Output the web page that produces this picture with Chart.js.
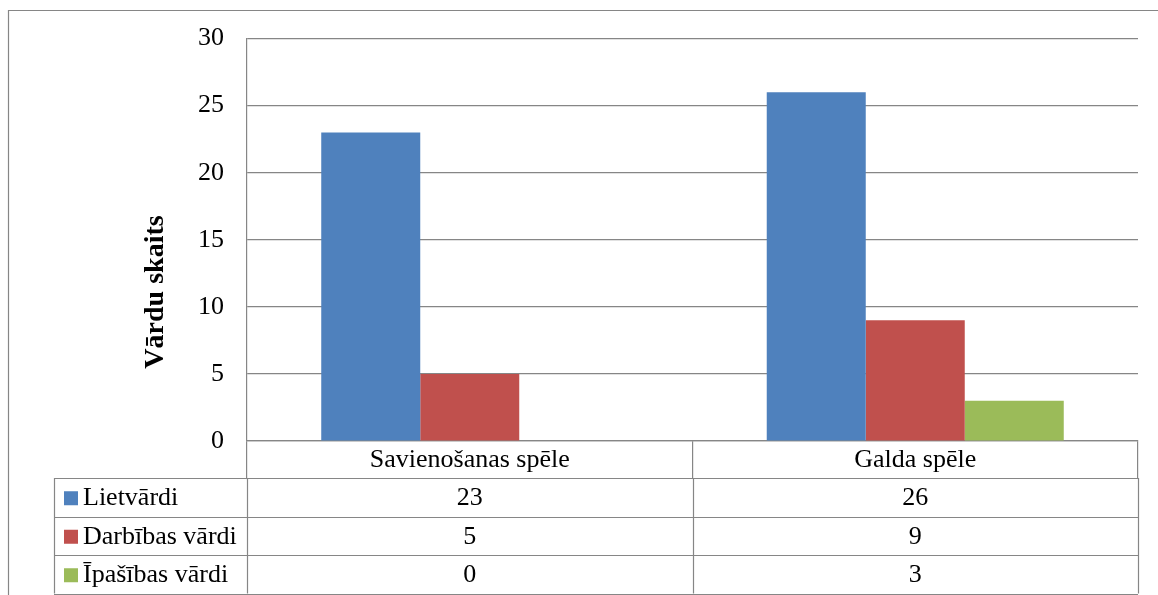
<!DOCTYPE html>
<html>
<head>
<meta charset="utf-8">
<script src="https://cdn.jsdelivr.net/npm/chart.js@4/dist/chart.umd.min.js"></script>
<style>
	html, body { margin: 0; padding: 0; background: #fff; }
	#wrap { width: 1158px; height: 595px; position: relative; }
</style>
</head>
<body>
<div id="wrap"><canvas id="chart"></canvas></div>
<script>
	const CATEGORIES  = ['Savienošanas spēle', 'Galda spēle'];
	const SERIES      = ['Lietvārdi', 'Darbības vārdi', 'Īpašības vārdi'];
	const LIETVARDI   = [23, 26];
	const DARBIBAS    = [5, 9];
	const IPASIBAS    = [0, 3];
	const COLORS      = ['#4F81BD', '#C0504D', '#9BBB59'];
	const Y_TITLE     = 'Vārdu skaits';

	const FONT     = '"Times New Roman", "Liberation Serif", serif';
	const LINE     = '#868686';
	const ROW_H    = 38.5;   // data table row height
	const TABLE_L  = 54;     // left edge of the legend column

	// Excel-like data table under the plot, plus the outer frame and the axis title
	const dataTable = {
		id: 'dataTable',
		afterDraw(chart) {
			const { ctx, chartArea: a, scales: { x } } = chart;
			const rows   = [LIETVARDI, DARBIBAS, IPASIBAS];
			const top    = a.bottom + 37;
			const bottom = top + ROW_H * rows.length;
			const mid    = (a.left + a.right) / 2;

			ctx.save();
			ctx.strokeStyle = LINE;
			ctx.lineWidth   = 1.2;

			// outer chart frame (runs off the right and bottom edge)
			ctx.beginPath();
			ctx.moveTo(8.5, 600);
			ctx.lineTo(8.5, 10.5);
			ctx.lineTo(1160, 10.5);
			ctx.stroke();

			ctx.beginPath();
			for (let i = 0; i <= rows.length; i++) {
				const y = Math.round(top + i * ROW_H) + 0.5;
				ctx.moveTo(TABLE_L, y);
				ctx.lineTo(a.right, y);
			}
			[TABLE_L, a.left, mid, a.right].forEach(px => {
				const xx = Math.round(px) + 0.5;
				ctx.moveTo(xx, top);
				ctx.lineTo(xx, bottom);
			});
			ctx.stroke();

			ctx.font         = `26px ${FONT}`;
			ctx.textBaseline = 'middle';
			rows.forEach((vals, r) => {
				const cy = top + r * ROW_H + ROW_H / 2 + 1;
				ctx.fillStyle = COLORS[r];
				ctx.fillRect(TABLE_L + 10, cy - 7, 14, 14);
				ctx.fillStyle = '#000';
				ctx.textAlign = 'left';
				ctx.fillText(SERIES[r], TABLE_L + 29, cy);
				ctx.textAlign = 'center';
				vals.forEach((v, i) => ctx.fillText(String(v), x.getPixelForValue(i), cy));
			});

			// rotated y axis title
			ctx.translate(156, 292);
			ctx.rotate(-Math.PI / 2);
			ctx.font      = `bold 28px ${FONT}`;
			ctx.textAlign = 'center';
			ctx.fillStyle = '#000';
			ctx.fillText(Y_TITLE, 0, 0);
			ctx.restore();
		}
	};

	new Chart(document.getElementById('chart'), {
		type: 'bar',
		data: {
			labels: CATEGORIES,
			datasets: [
				{ label: SERIES[0], data: LIETVARDI, backgroundColor: COLORS[0] },
				{ label: SERIES[1], data: DARBIBAS,  backgroundColor: COLORS[1] },
				{ label: SERIES[2], data: IPASIBAS,  backgroundColor: COLORS[2] },
			]
		},
		options: {
			responsive: true,
			maintainAspectRatio: false,
			animation: false,
			layout: { padding: { top: 38, right: 20, left: 0, bottom: 0 } },
			datasets: { bar: { categoryPercentage: 0.6667, barPercentage: 1 } },
			plugins: { legend: { display: false }, tooltip: { enabled: false } },
			scales: {
				x: {
					afterFit: s => { s.height = 154; },
					grid: { drawOnChartArea: false, drawTicks: true, tickLength: 37, color: LINE, lineWidth: 1.2 },
					border: { display: true, color: LINE, width: 1.2 },
					ticks: { color: '#000', font: { family: FONT, size: 26 }, padding: -33, maxRotation: 0 }
				},
				y: {
					min: 0,
					max: 30,
					afterFit: s => { s.width = 247; },
					grid: { color: LINE, lineWidth: 1.2, drawTicks: false },
					border: { display: true, color: LINE, width: 1.2 },
					ticks: { stepSize: 5, color: '#000', font: { family: FONT, size: 26 }, padding: 23 }
				}
			}
		},
		plugins: [dataTable]
	});
</script>
</body>
</html>
